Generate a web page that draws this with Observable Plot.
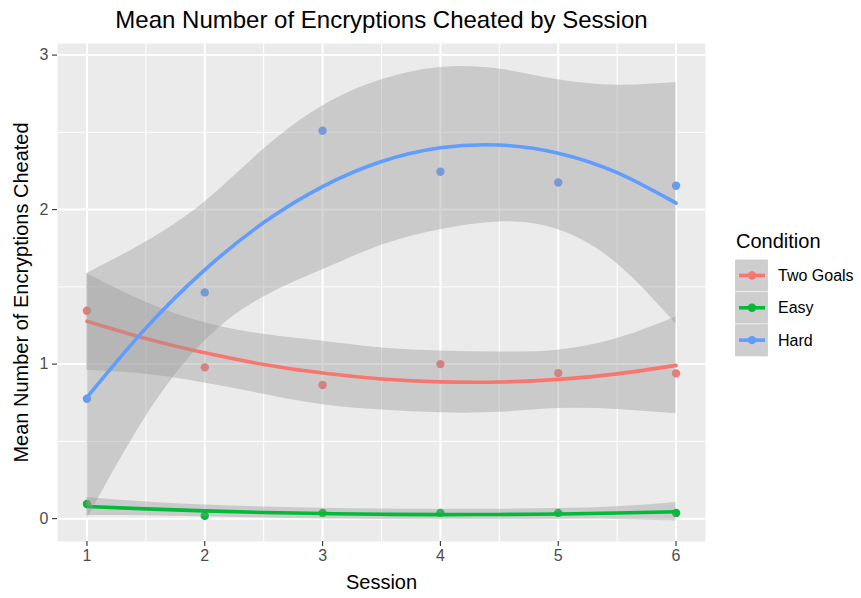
<!DOCTYPE html>
<html>
<head>
<meta charset="utf-8">
<script src="https://cdn.jsdelivr.net/npm/d3@7"></script>
<script src="https://cdn.jsdelivr.net/npm/@observablehq/plot@0.6"></script>
<style>
  html, body { margin: 0; padding: 0; background: white; }
  #wrap { position: relative; width: 861px; height: 598px; }
  #legend { position: absolute; left: 0; top: 0; pointer-events: none; }
</style>
</head>
<body>
<div id="wrap"></div>
<script>
// ---------- data ----------
const sessions = [1, 2, 3, 4, 5, 6];
const conditions = ["Two Goals", "Easy", "Hard"];
const colors = ["#F8766D", "#00BA38", "#619CFF"];

// observed means per session
const meanTwoGoals = [1.345, 0.979, 0.865, 1.000, 0.942, 0.940];
const meanEasy     = [0.095, 0.019, 0.037, 0.037, 0.037, 0.037];
const meanHard     = [0.776, 1.464, 2.510, 2.245, 2.175, 2.154];

// smoothed fit and confidence band
const smoothX = [1, 1.5, 2, 2.5, 3, 3.5, 4, 4.5, 5, 5.5, 6];
const fitTwoGoals   = [1.278, 1.166, 1.073, 0.998, 0.942, 0.904, 0.885, 0.884, 0.901, 0.937, 0.992];
const upperTwoGoals = [1.587, 1.400, 1.268, 1.193, 1.148, 1.104, 1.085, 1.078, 1.090, 1.165, 1.305];
const lowerTwoGoals = [0.960, 0.935, 0.878, 0.805, 0.737, 0.703, 0.685, 0.688, 0.712, 0.707, 0.679];
const fitEasy   = [0.079, 0.063, 0.050, 0.040, 0.033, 0.028, 0.026, 0.027, 0.030, 0.036, 0.045];
const upperEasy = [0.137, 0.107, 0.088, 0.076, 0.068, 0.062, 0.060, 0.061, 0.065, 0.077, 0.105];
const lowerEasy = [0.020, 0.019, 0.012, 0.004, -0.002, -0.006, -0.008, -0.007, -0.005, -0.005, -0.015];
const fitHard   = [0.785, 1.233, 1.610, 1.916, 2.149, 2.311, 2.400, 2.418, 2.365, 2.239, 2.042];
const upperHard = [1.587, 1.790, 2.050, 2.390, 2.670, 2.840, 2.920, 2.910, 2.840, 2.805, 2.822];
const lowerHard = [-0.005, 0.660, 1.150, 1.435, 1.610, 1.770, 1.870, 1.920, 1.870, 1.650, 1.260];

const yTicks = [0, 1, 2, 3];
const yMinor = [0.5, 1.5, 2.5];
const xMinor = [1.5, 2.5, 3.5, 4.5, 5.5];

const titleText = "Mean Number of Encryptions Cheated by Session";
const xTitle = "Session";
const yTitle = "Mean Number of Encryptions Cheated";
const legendTitle = "Condition";

// ---------- tables ----------
const means = [meanTwoGoals, meanEasy, meanHard];
const fits = [fitTwoGoals, fitEasy, fitHard];
const uppers = [upperTwoGoals, upperEasy, upperHard];
const lowers = [lowerTwoGoals, lowerEasy, lowerHard];

const points = conditions.flatMap((c, i) => sessions.map((s, j) => ({condition: c, session: s, mean: means[i][j]})));
const smooths = conditions.map((c, i) => smoothX.map((x, j) => ({condition: c, x, fit: fits[i][j], lo: lowers[i][j], hi: uppers[i][j]})));

const FONT = "'Liberation Sans', Arial, Helvetica, sans-serif";

const groupMarks = smooths.flatMap((rows, i) => [
  Plot.areaY(rows, {x: "x", y1: "lo", y2: "hi", fill: "#999999", fillOpacity: 0.4, curve: "natural"}),
  Plot.line(rows, {x: "x", y: "fit", stroke: colors[i], strokeWidth: 3.6, curve: "natural"})
]);

const plot = Plot.plot({
  width: 861,
  height: 598,
  marginTop: 43,
  marginRight: 156,
  marginBottom: 57,
  marginLeft: 57,
  style: {fontFamily: FONT, fontSize: "16px", background: "white", overflow: "visible"},
  x: {domain: [0.75, 6.25]},
  y: {domain: [-0.148, 3.075]},
  color: {domain: conditions, range: colors},
  marks: [
    Plot.frame({fill: "#EBEBEB", stroke: null}),
    Plot.gridX(xMinor, {stroke: "white", strokeOpacity: 1, strokeWidth: 1}),
    Plot.gridY(yMinor, {stroke: "white", strokeOpacity: 1, strokeWidth: 1}),
    Plot.gridX(sessions, {stroke: "white", strokeOpacity: 1, strokeWidth: 2}),
    Plot.gridY(yTicks, {stroke: "white", strokeOpacity: 1, strokeWidth: 2}),
    Plot.axisX(sessions, {tickSize: 5, tickPadding: 3, label: null, tickFormat: d => String(d), stroke: "#333333", fill: "#4D4D4D", strokeWidth: 1.1, fontSize: 16}),
    Plot.axisY(yTicks, {tickSize: 5, tickPadding: 4, label: null, tickFormat: d => String(d), stroke: "#333333", fill: "#4D4D4D", strokeWidth: 1.1, fontSize: 16}),
    Plot.dot(points, {x: "session", y: "mean", fill: "condition", r: 4.2, stroke: null}),
    ...groupMarks,
    Plot.text([titleText], {text: d => d, frameAnchor: "top", dy: -22.7, lineAnchor: "middle", textAnchor: "middle", fontSize: 24, fill: "black"}),
    Plot.text([xTitle], {text: d => d, frameAnchor: "bottom", dy: 40.6, lineAnchor: "middle", textAnchor: "middle", fontSize: 20, fill: "black"}),
    Plot.text([yTitle], {text: d => d, frameAnchor: "left", dx: -36.4, rotate: -90, lineAnchor: "middle", textAnchor: "middle", fontSize: 20, fill: "black"})
  ]
});

const wrap = document.getElementById("wrap");
wrap.appendChild(plot);

// ---------- legend ----------
const leg = d3.create("svg")
  .attr("id", "legend")
  .attr("width", 861)
  .attr("height", 598)
  .style("font-family", FONT);

leg.append("text")
  .attr("x", 736).attr("y", 248)
  .attr("font-size", 20).attr("fill", "black")
  .text(legendTitle);

conditions.forEach((c, i) => {
  const top = 259.5 + i * 32.3;
  const cy = top + 16;
  leg.append("rect")
    .attr("x", 735).attr("y", top).attr("width", 33).attr("height", 32.3)
    .attr("fill", "#F2F2F2").attr("stroke", "white").attr("stroke-width", 1);
  leg.append("rect")
    .attr("x", 735).attr("y", top).attr("width", 33).attr("height", 32.3)
    .attr("fill", "#999999").attr("fill-opacity", 0.4);
  leg.append("line")
    .attr("x1", 739).attr("x2", 765).attr("y1", cy).attr("y2", cy)
    .attr("stroke", colors[i]).attr("stroke-width", 3.6);
  leg.append("circle")
    .attr("cx", 752).attr("cy", cy).attr("r", 4.2).attr("fill", colors[i]);
  leg.append("text")
    .attr("x", 778).attr("y", cy).attr("dy", "0.35em")
    .attr("font-size", 16).attr("fill", "black")
    .text(c);
});

wrap.appendChild(leg.node());
</script>
</body>
</html>
